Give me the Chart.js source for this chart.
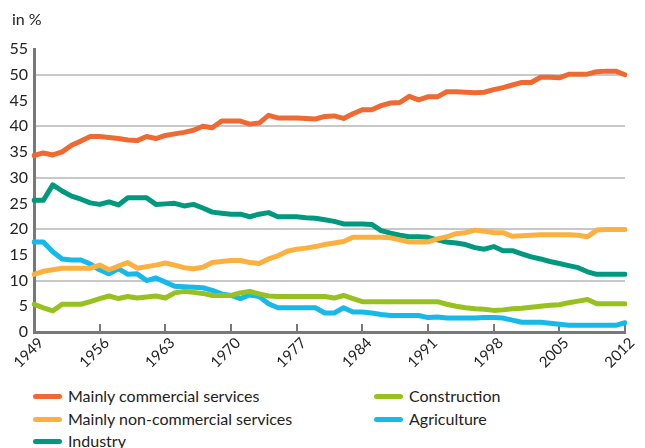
<!DOCTYPE html>
<html>
<head>
<meta charset="utf-8">
<script src="https://cdn.jsdelivr.net/npm/chart.js@4"></script>
<style>
  body { margin: 0; background: #fff; font-family: Lato, sans-serif; color: #222; }
  #wrap { position: relative; width: 645px; height: 448px; }
  #chartBox { position: absolute; left: 0; top: 0; width: 645px; height: 382px; }
  #unit { position: absolute; left: 12px; top: 9px; font-size: 16px; }
  .lg { position: absolute; font-size: 16px; line-height: 18px; white-space: nowrap; }
  .lg span.sw { position: absolute; left: 0; top: 7px; width: 29px; height: 5px; border-radius: 3px; }
  .lg span.tx { position: absolute; left: 35px; top: 0; }
</style>
</head>
<body>
<div id="wrap">
  <div id="chartBox"><canvas id="c"></canvas></div>
  <div id="unit">in %</div>
  <div id="legend"></div>
</div>
<script>
// years 1949..2012
const years = [];
for (let y = 1949; y <= 2012; y++) years.push(String(y));

// values (share of employment, %)
const commercial = [34.3, 34.8, 34.4, 35.0, 36.3, 37.1, 38.0, 38.0, 37.8, 37.6, 37.3, 37.2, 38.0, 37.6, 38.2, 38.5,
  38.8, 39.2, 40.0, 39.7, 41.0, 41.0, 41.0, 40.4, 40.6, 42.1, 41.6, 41.6, 41.6, 41.5, 41.4, 41.9,
  42.0, 41.5, 42.4, 43.2, 43.2, 44.0, 44.5, 44.6, 45.8, 45.1, 45.7, 45.7, 46.7, 46.7, 46.6, 46.5,
  46.6, 47.1, 47.5, 48.0, 48.5, 48.5, 49.5, 49.5, 49.4, 50.1, 50.1, 50.1, 50.6, 50.7, 50.7, 50.0];
const nonCommercial = [11.2, 11.8, 12.1, 12.4, 12.4, 12.4, 12.4, 13.0, 12.1, 12.8, 13.5, 12.4, 12.7, 13.0, 13.4, 13.0,
  12.5, 12.3, 12.6, 13.5, 13.7, 13.9, 13.9, 13.5, 13.3, 14.2, 14.8, 15.7, 16.1, 16.3, 16.6, 17.0,
  17.3, 17.6, 18.4, 18.4, 18.4, 18.4, 18.3, 17.9, 17.5, 17.5, 17.5, 18.1, 18.5, 19.1, 19.3, 19.8,
  19.6, 19.3, 19.3, 18.6, 18.7, 18.8, 18.9, 18.9, 18.9, 18.9, 18.8, 18.5, 19.8, 19.9, 19.9, 19.9];
const industry = [25.6, 25.6, 28.6, 27.4, 26.4, 25.8, 25.1, 24.8, 25.3, 24.7, 26.1, 26.1, 26.1, 24.8, 24.9, 25.0,
  24.5, 24.8, 24.1, 23.3, 23.1, 22.9, 22.9, 22.4, 22.9, 23.2, 22.4, 22.4, 22.4, 22.2, 22.1, 21.8,
  21.5, 21.0, 21.0, 21.0, 20.9, 19.7, 19.2, 18.8, 18.5, 18.5, 18.4, 17.9, 17.5, 17.3, 17.0, 16.4,
  16.1, 16.6, 15.8, 15.8, 15.2, 14.6, 14.2, 13.7, 13.3, 12.9, 12.5, 11.7, 11.2, 11.2, 11.2, 11.2];
const construction = [5.4, 4.7, 4.1, 5.4, 5.4, 5.4, 5.9, 6.5, 7.0, 6.5, 6.9, 6.6, 6.8, 7.0, 6.6, 7.6,
  7.9, 7.7, 7.5, 7.1, 7.1, 7.1, 7.6, 7.9, 7.4, 7.0, 6.9, 6.9, 6.9, 6.9, 6.9, 6.9,
  6.6, 7.1, 6.5, 5.9, 5.9, 5.9, 5.9, 5.9, 5.9, 5.9, 5.9, 5.9, 5.4, 5.0, 4.7, 4.5,
  4.4, 4.2, 4.3, 4.5, 4.6, 4.8, 5.0, 5.2, 5.3, 5.7, 6.0, 6.3, 5.5, 5.5, 5.5, 5.5];
const agriculture = [17.5, 17.5, 15.6, 14.2, 14.0, 14.0, 13.2, 12.1, 11.3, 12.3, 11.2, 11.3, 10.0, 10.5, 9.7, 8.9,
  8.8, 8.7, 8.6, 8.1, 7.4, 7.1, 6.5, 7.2, 6.9, 5.5, 4.7, 4.7, 4.7, 4.7, 4.7, 3.7,
  3.7, 4.7, 3.9, 3.9, 3.7, 3.4, 3.2, 3.2, 3.2, 3.2, 2.8, 2.9, 2.7, 2.7, 2.7, 2.7,
  2.8, 2.8, 2.7, 2.3, 1.9, 1.9, 1.9, 1.7, 1.5, 1.3, 1.3, 1.3, 1.3, 1.3, 1.3, 1.8];

const seriesNames = ['Mainly commercial services', 'Mainly non-commercial services', 'Industry', 'Construction', 'Agriculture'];
const seriesColors = ['#ee6a32', '#fbb040', '#00997f', '#97c11f', '#16b9ea'];
const seriesData = [commercial, nonCommercial, industry, construction, agriculture];

const FONT = "Lato, sans-serif";
const AXIS = '#76787a';

const datasets = seriesNames.map((name, i) => ({
  label: name,
  data: seriesData[i],
  borderColor: seriesColors[i],
  backgroundColor: seriesColors[i],
  borderWidth: 5,
  pointRadius: 0,
  tension: 0,
  borderCapStyle: 'round',
  borderJoinStyle: 'round',
  fill: false
}));

new Chart(document.getElementById('c'), {
  type: 'line',
  data: { labels: years, datasets: datasets },
  options: {
    responsive: true,
    maintainAspectRatio: false,
    animation: false,
    layout: { padding: { top: 49, right: 20, left: 0, bottom: 0 } },
    plugins: { legend: { display: false }, tooltip: { enabled: false } },
    scales: {
      x: {
        offset: false,
        border: { color: AXIS, width: 3 },
        grid: {
          drawOnChartArea: false,
          drawTicks: true,
          tickLength: -8,   // tick marks point up into the plot
          color: AXIS,
          lineWidth: 2
        },
        ticks: {
          autoSkip: false,
          maxRotation: 45,
          minRotation: 45,
          padding: 10,
          labelOffset: 7,
          color: '#222',
          font: { family: FONT, size: 15 },
          callback: function (val, idx) {
            return (idx % 7 === 0) ? years[idx] : null;
          }
        },
        afterFit: function (scale) {
          scale.height = 50;
          scale.paddingRight = 0;
          scale.paddingLeft = 0;
        }
      },
      y: {
        min: 0,
        max: 55,
        border: { color: AXIS, width: 3 },
        grid: {
          drawTicks: false,
          lineWidth: 2,
          color: function (ctx) {
            const v = ctx.tick ? ctx.tick.value : 0;
            return (v > 0 && v % 10 === 0) ? '#c8c8c8' : 'rgba(0,0,0,0)';
          }
        },
        ticks: {
          stepSize: 5,
          padding: 6,
          color: '#222',
          font: { family: FONT, size: 16 }
        },
        afterFit: function (scale) { scale.width = 34; }
      }
    }
  }
});

// legend: two columns, column-major order like the original
const legendPos = [[33, 387], [33, 410], [33, 432], [374, 387], [374, 410]];
const lg = document.getElementById('legend');
seriesNames.forEach((name, k) => {
  const d = document.createElement('div');
  d.className = 'lg';
  d.style.left = legendPos[k][0] + 'px';
  d.style.top = legendPos[k][1] + 'px';
  d.innerHTML = '<span class="sw" style="background:' + seriesColors[k] + '"></span><span class="tx">' + name + '</span>';
  lg.appendChild(d);
});
</script>
</body>
</html>
